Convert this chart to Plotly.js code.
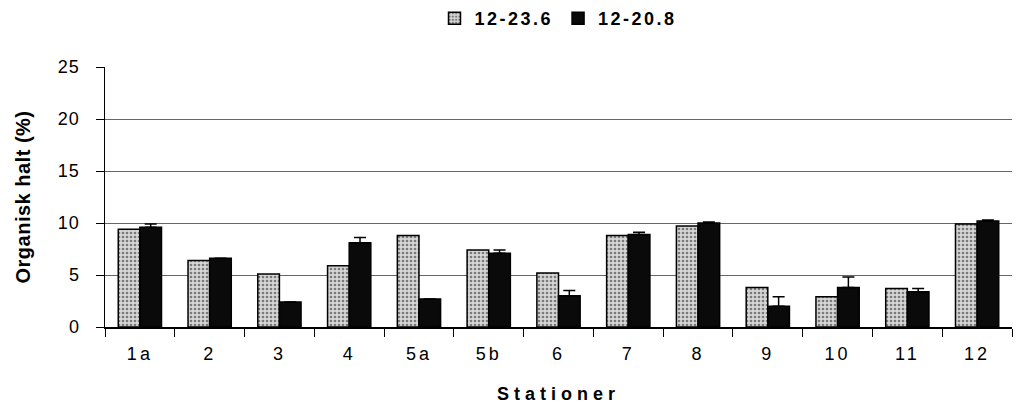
<!DOCTYPE html>
<html><head><meta charset="utf-8">
<script src="https://cdn.plot.ly/plotly-3.0.1.min.js"></script>
<style>
body{margin:0;background:#fff}#c{width:1018px;height:407px}
.legendtext{letter-spacing:2.5px}
.xtitle{letter-spacing:5px}
.xtick text{letter-spacing:3px}
.ytick text{letter-spacing:1px}
.ytitle{letter-spacing:0.5px}
</style>
</head><body><div id="c"></div>
<script>
const stations = ["1a","2","3","4","5a","5b","6","7","8","9","10","11","12"];
const june = [9.4,6.4,5.1,5.9,8.8,7.4,5.2,8.8,9.7,3.8,2.9,3.7,9.9];
const aug = [9.6,6.6,2.4,8.1,2.7,7.1,3.0,8.9,10.0,2.0,3.8,3.4,10.2];
const augErr = [0.3,0,0,0.5,0,0.3,0.5,0.2,0.1,0.9,1.0,0.3,0.1];
const tickLabels = ["1a","2","3","4","5a","5b","6","7","8","9","10","11","12"];

const traces = [
  {type:"bar", name:"12-23.6", x:stations, y:june,
   marker:{color:"#c4c4c4", line:{color:"#000", width:1.5},
     pattern:{shape:".", fgcolor:"#7a7a7a", bgcolor:"#d6d6d6", size:4, solidity:0.35}}},
  {type:"bar", name:"12-20.8", x:stations, y:aug,
   marker:{color:"#0a0a0a", line:{color:"#000", width:1.5}},
   error_y:{type:"data", array:augErr, symmetric:false, arrayminus:augErr.map(()=>0), color:"#000", thickness:1.5, width:6}}
];
const layout = {
  width:1018, height:407,
  margin:{l:105, r:6, t:67, b:80},
  paper_bgcolor:"#fff", plot_bgcolor:"#fff",
  barmode:"group", bargap:0.38, bargroupgap:0,
  font:{family:"Liberation Sans, Arial, sans-serif", color:"#000", size:18},
  showlegend:true,
  legend:{orientation:"h", x:0.5, xref:"paper", xanchor:"center", yref:"container", y:1, yanchor:"top",
    font:{size:18, family:"Liberation Sans, Arial, sans-serif", weight:"bold"}, itemwidth:30, traceorder:"normal", tracegroupgap:0},
  xaxis:{type:"category", tickvals:stations, ticktext:tickLabels, tickson:"boundaries",
    ticks:"outside", ticklen:8, tickcolor:"#000", showline:true, linecolor:"#000", linewidth:1.5,
    ticklabelstandoff:10,
    tickfont:{size:18}, title:{text:"Stationer", font:{size:18, weight:"bold"}, standoff:24}},
  yaxis:{range:[0,25], dtick:5, showgrid:true, gridcolor:"#666", gridwidth:1,
    ticks:"outside", ticklen:8, tickcolor:"#000", showline:true, linecolor:"#000", linewidth:1.5,
    ticklabelstandoff:12,
    tickfont:{size:18}, zeroline:false,
    title:{text:"Organisk halt (%)", font:{size:20, weight:"bold"}, standoff:22}}
};
Plotly.newPlot("c", traces, layout, {displayModeBar:false, staticPlot:true});
</script></body></html>
